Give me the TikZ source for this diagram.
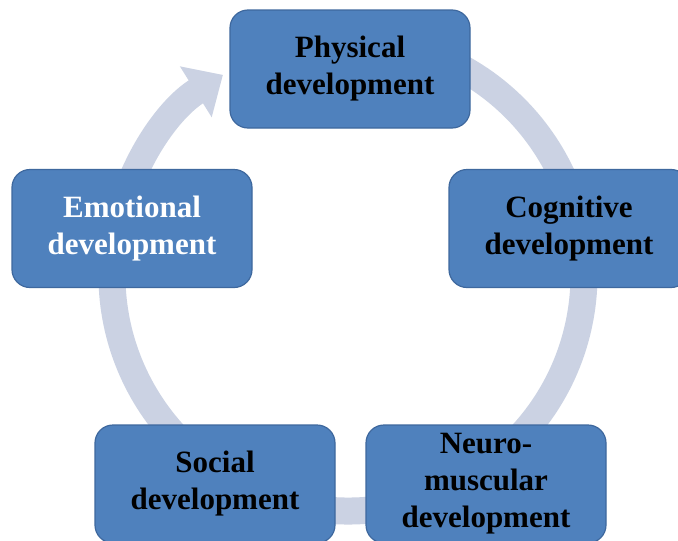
\documentclass[tikz,border=0pt]{standalone}
\usepackage{fontspec}
\setmainfont{Liberation Serif}
\usetikzlibrary{arrows.meta}
\definecolor{boxblue}{RGB}{79,129,189}
\definecolor{boxedge}{RGB}{62,104,158}
\definecolor{ringgrey}{RGB}{203,210,227}
\tikzset{
  devbox/.style={draw=boxedge, line width=1.2pt, fill=boxblue, rounded corners=18pt,
    minimum width=240pt, minimum height=118pt, align=center, inner sep=0pt,
    font=\fontsize{31}{37}\selectfont\bfseries},
  ringarrow/.style={ringgrey, line width=27pt, -{Triangle[length=32pt,width=58pt]}}
}
\begin{document}
\begin{tikzpicture}[x=1pt,y=-1pt]
			%%%%% START %%%%%
			\useasboundingbox (0,0) rectangle (678,541);
			\fill[white] (0,0) rectangle (678,541);
			
			% cycle behind the boxes
			\coordinate (c) at (348,275);
			\draw[ringarrow] (c) ++(280:236) arc[start angle=280, end angle=598, radius=236];
			
			\node[devbox] (phys) at (350,69) {Physical\\development};
			\node[devbox] (cog) at (569,228.5) {Cognitive\\development};
			\node[devbox] (neuro) at (486,484) {Neuro-\\muscular\\development};
			\node[devbox] (soc) at (215,484) {Social\\development};
			\node[devbox, text=white] (emo) at (132,228.5) {Emotional\\development};
			
			%%%%% END %%%%%
\end{tikzpicture}
\end{document}
